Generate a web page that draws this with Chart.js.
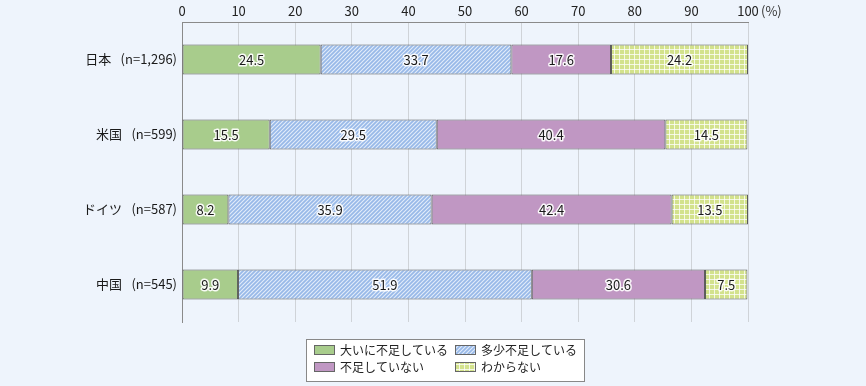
<!DOCTYPE html>
<html>
<head>
<meta charset="utf-8">
<script src="https://cdn.jsdelivr.net/npm/chart.js@4"></script>
<style>
  html, body { margin: 0; padding: 0; background: #eef4fc; }
  #wrap { width: 866px; height: 386px; }
</style>
</head>
<body>
<div id="wrap"><canvas id="chart" width="866" height="386"></canvas></div>
<script>
const countries = ['日本\u2002 (n=1,296)', '米国\u2002 (n=599)', 'ドイツ\u2002 (n=587)', '中国\u2002 (n=545)'];
const seriesNames = ['大いに不足している', '多少不足している', '不足していない', 'わからない'];
const veryShort = [24.5, 15.5, 8.2, 9.9];
const someShort = [33.7, 29.5, 35.9, 51.9];
const notShort = [17.6, 40.4, 42.4, 30.6];
const unknown = [24.2, 14.5, 13.5, 7.5];
const xTicks = [0, 10, 20, 30, 40, 50, 60, 70, 80, 90, 100];

const FONT = '"Noto Sans CJK JP", "Noto Sans", sans-serif';

// hatched blue and gridded yellow-green fills
function hatch() {
    const c = document.createElement('canvas');
    c.width = 4; c.height = 4;
    const g = c.getContext('2d');
    g.fillStyle = '#98b9e8';
    g.fillRect(0, 0, 4, 4);
    g.strokeStyle = '#e2ecfa';
    g.lineWidth = 1.1;
    g.beginPath();
    g.moveTo(-1, 5); g.lineTo(5, -1);
    g.moveTo(-1, 1); g.lineTo(1, -1);
    g.moveTo(3, 5); g.lineTo(5, 3);
    g.stroke();
    return g.createPattern(c, 'repeat');
}
function grid() {
    const c = document.createElement('canvas');
    c.width = 5; c.height = 5;
    const g = c.getContext('2d');
    g.fillStyle = '#d3e28c';
    g.fillRect(0, 0, 5, 5);
    g.fillStyle = 'rgba(255,255,255,0.75)';
    g.fillRect(4, 0, 1, 5);
    g.fillRect(0, 4, 5, 1);
    return g.createPattern(c, 'repeat');
}

const fills = ['#a8cc8c', hatch(), '#c097c3', grid()];
const values = [veryShort, someShort, notShort, unknown];

const datasets = seriesNames.map((name, i) => ({
    label: name,
    data: values[i],
    backgroundColor: fills[i],
    borderColor: '#5a5a5a',
    borderWidth: 1,
    borderSkipped: false,
    barPercentage: 0.4,
    categoryPercentage: 1
}));

const bgPlugin = {
    id: 'bg',
    beforeDraw(chart) {
        const ctx = chart.ctx;
        ctx.save();
        ctx.fillStyle = '#eef4fc';
        ctx.fillRect(0, 0, chart.width, chart.height);
        ctx.restore();
    }
};

const labelPlugin = {
    id: 'segLabels',
    afterDatasetsDraw(chart) {
        const ctx = chart.ctx;
        ctx.save();
        ctx.font = '13px ' + FONT;
        ctx.textAlign = 'center';
        ctx.textBaseline = 'middle';
        ctx.lineJoin = 'round';
        chart.data.datasets.forEach((ds, i) => {
            chart.getDatasetMeta(i).data.forEach((bar, j) => {
                const x = (bar.x + bar.base) / 2;
                const txt = ds.data[j].toFixed(1);
                ctx.strokeStyle = 'rgba(255,255,255,0.9)';
                ctx.lineWidth = 3;
                ctx.strokeText(txt, x, bar.y + 1);
                ctx.fillStyle = '#1a1a1a';
                ctx.fillText(txt, x, bar.y + 1);
            });
        });
        // unit after the last tick
        const xs = chart.scales.x;
        ctx.textAlign = 'left';
        ctx.fillStyle = '#333';
        ctx.fillText('(%)', xs.getPixelForValue(100) + 13, 11);
        ctx.restore();
    }
};

const legendPlugin = {
    id: 'boxLegend',
    afterDraw(chart) {
        const ctx = chart.ctx;
        const bx = 306, by = 339, bw = 278, bh = 42;
        ctx.save();
        ctx.fillStyle = '#ffffff';
        ctx.fillRect(bx, by, bw, bh);
        ctx.strokeStyle = '#888';
        ctx.lineWidth = 1;
        ctx.strokeRect(bx + 0.5, by + 0.5, bw, bh);
        ctx.font = '12px ' + FONT;
        ctx.textBaseline = 'middle';
        ctx.textAlign = 'left';
        const cols = [bx + 8, bx + 149];
        const rows = [by + 10, by + 27];
        chart.data.datasets.forEach((ds, i) => {
            const x = cols[i % 2], y = rows[Math.floor(i / 2)];
            ctx.fillStyle = ds.backgroundColor;
            ctx.fillRect(x, y - 4, 21, 10);
            ctx.strokeStyle = '#666';
            ctx.strokeRect(x + 0.5, y - 3.5, 20, 9);
            ctx.fillStyle = '#222';
            ctx.fillText(ds.label, x + 26, y + 1);
        });
        ctx.restore();
    }
};

new Chart(document.getElementById('chart'), {
    type: 'bar',
    data: { labels: countries, datasets: datasets },
    options: {
        indexAxis: 'y',
        responsive: false,
        animation: false,
        layout: { padding: { left: 0, right: 118, top: 0, bottom: 64 } },
        plugins: { legend: { display: false }, tooltip: { enabled: false } },
        scales: {
            x: {
                position: 'top',
                stacked: true,
                min: 0,
                max: 100,
                afterBuildTicks(scale) { scale.ticks = xTicks.map(v => ({ value: v })); },
                afterFit(scale) { scale.height = 22; },
                ticks: { font: { size: 13, family: FONT }, color: '#222', padding: 3 },
                grid: { color: '#cfd3d8', drawTicks: false },
                border: { color: '#8a8a8a' }
            },
            y: {
                stacked: true,
                afterFit(scale) { scale.width = 182; },
                ticks: { font: { size: 13, family: FONT }, color: '#1a1a1a', padding: 5 },
                grid: { display: false, drawTicks: false },
                border: { color: '#8a8a8a' }
            }
        }
    },
    plugins: [bgPlugin, labelPlugin, legendPlugin]
});
</script>
</body>
</html>
